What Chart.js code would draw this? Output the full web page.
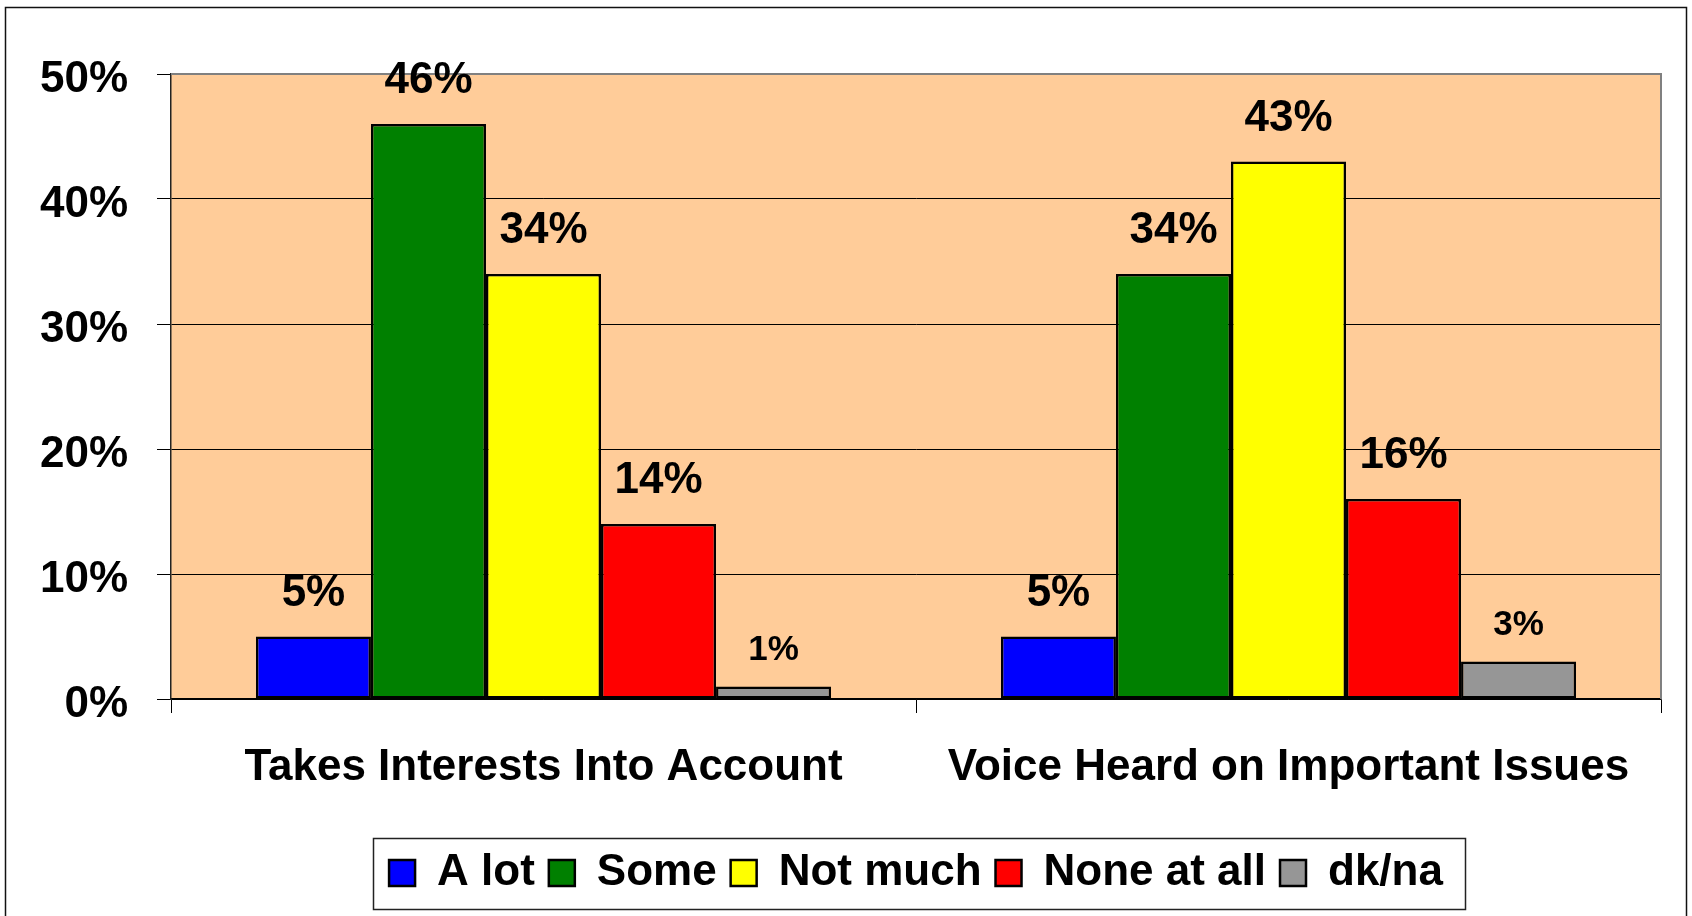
<!DOCTYPE html>
<html>
<head>
<meta charset="utf-8">
<script src="https://cdn.jsdelivr.net/npm/chart.js@4.4.1/dist/chart.umd.min.js"></script>
<style>
  html, body { margin: 0; padding: 0; background: #fff; }
  #wrap { width: 1692px; height: 916px; position: relative; }
</style>
</head>
<body>
<div id="wrap"><canvas id="chart"></canvas></div>
<script>
// chart data
const categories = ['Takes Interests Into Account', 'Voice Heard on Important Issues'];
const seriesNames = ['A lot', 'Some', 'Not much', 'None at all', 'dk/na'];
const aLot = [5, 5];
const some = [46, 34];
const notMuch = [34, 43];
const noneAtAll = [14, 16];
const dkNa = [1, 3];
const yTicks = [0, 10, 20, 30, 40, 50];
const seriesColors = ['#0000ff', '#008000', '#ffff00', '#ff0000', '#969696'];

const FONT = "'Liberation Sans', Arial, sans-serif";

// background, outer frame, plot fill
const framePlugin = {
    id: 'frame',
    beforeDraw(chart) {
        const ctx = chart.ctx;
        const a = chart.chartArea;
        ctx.save();
        ctx.fillStyle = '#ffffff';
        ctx.fillRect(0, 0, chart.width, chart.height);
        ctx.strokeStyle = '#111';
        ctx.lineWidth = 1.5;
        ctx.strokeRect(5.5, 7.5, 1681, 930);
        ctx.fillStyle = '#ffcc99';
        ctx.fillRect(a.left, a.top, a.right - a.left, a.bottom - a.top);
        ctx.restore();
    },
    beforeDatasetsDraw(chart) {
        // gray border on top and right of the plot
        const ctx = chart.ctx;
        const a = chart.chartArea;
        ctx.save();
        ctx.strokeStyle = '#808080';
        ctx.lineWidth = 2;
        ctx.beginPath();
        ctx.moveTo(a.left, a.top);
        ctx.lineTo(a.right, a.top);
        ctx.lineTo(a.right, a.bottom);
        ctx.stroke();
        ctx.restore();
    },
    afterDatasetsDraw(chart) {
        // value labels above the bars
        const ctx = chart.ctx;
        ctx.save();
        ctx.fillStyle = '#000';
        ctx.textAlign = 'center';
        ctx.textBaseline = 'alphabetic';
        chart.data.datasets.forEach((ds, i) => {
            const meta = chart.getDatasetMeta(i);
            meta.data.forEach((bar, j) => {
                const v = ds.data[j];
                const small = v <= 3;
                ctx.font = 'bold ' + (small ? 35 : 44) + 'px ' + FONT;
                ctx.fillText(v + '%', bar.x, bar.y - (small ? 27 : 31));
            });
        });
        ctx.restore();
    },
    afterDraw(chart) {
        // box around the legend
        const boxes = chart.legend.legendHitBoxes;
        if (!boxes || !boxes.length) return;
        let left = Infinity, right = -Infinity, top = Infinity, bottom = -Infinity;
        boxes.forEach(b => {
            left = Math.min(left, b.left);
            right = Math.max(right, b.left + b.width);
            top = Math.min(top, b.top);
            bottom = Math.max(bottom, b.top + b.height);
        });
        const cy = (top + bottom) / 2;
        const ctx = chart.ctx;
        ctx.save();
        ctx.strokeStyle = '#222';
        ctx.lineWidth = 1.5;
        ctx.strokeRect(Math.round(left - 16) + 0.5, Math.round(cy - 35.5) + 0.5, Math.round(right - left + 38), 71);
        ctx.restore();
    }
};

const ctx = document.getElementById('chart').getContext('2d');
const seriesValues = [aLot, some, notMuch, noneAtAll, dkNa];

new Chart(ctx, {
    type: 'bar',
    data: {
        labels: categories,
        datasets: seriesNames.map((name, i) => ({
            label: name,
            data: seriesValues[i],
            backgroundColor: seriesColors[i],
            borderColor: '#000',
            borderWidth: 2.5,
            borderSkipped: false,
            barPercentage: 1,
            categoryPercentage: 0.772
        }))
    },
    options: {
        responsive: true,
        maintainAspectRatio: false,
        animation: false,
        layout: {
            padding: { top: 74, right: 31, bottom: 11, left: 0 }
        },
        plugins: {
            tooltip: { enabled: false },
            legend: {
                position: 'bottom',
                fullSize: false,
                labels: {
                    color: '#000',
                    font: { family: FONT, size: 44, weight: 'bold', lineHeight: 1.2 },
                    boxWidth: 26,
                    boxHeight: 26,
                    padding: 14
                }
            }
        },
        scales: {
            x: {
                grid: {
                    display: true,
                    drawOnChartArea: false,
                    drawTicks: true,
                    tickLength: 14,
                    color: '#000',
                    offset: true
                },
                border: { color: '#000', width: 1.5 },
                ticks: {
                    color: '#000',
                    font: { family: FONT, size: 44, weight: 'bold' },
                    padding: 28,
                    maxRotation: 0,
                    autoSkip: false
                },
                afterFit(scale) { scale.height = 138; }
            },
            y: {
                min: yTicks[0],
                max: yTicks[yTicks.length - 1],
                afterBuildTicks(scale) {
                    scale.ticks = yTicks.map(v => ({ value: v }));
                },
                grid: {
                    color: '#000',
                    lineWidth: 1,
                    tickLength: 14
                },
                border: { color: '#222', width: 1.5 },
                ticks: {
                    color: '#000',
                    font: { family: FONT, size: 44, weight: 'bold' },
                    padding: 29,
                    labelOffset: 6,
                    callback: v => v + '%'
                },
                afterFit(scale) { scale.width = 171; }
            }
        }
    },
    plugins: [framePlugin]
});
</script>
</body>
</html>
